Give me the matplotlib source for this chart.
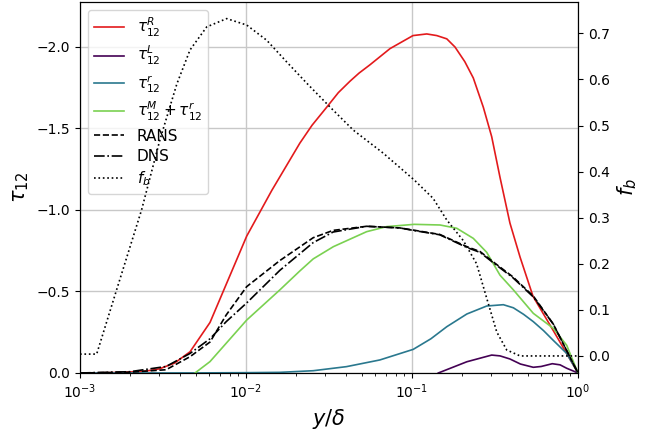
import numpy as np
import matplotlib
matplotlib.use("Agg")
import matplotlib.pyplot as plt

# Reynolds stress contributions along the wall-normal coordinate
x_R = [0.001, 0.0015, 0.002, 0.0025, 0.003, 0.0037, 0.0046, 0.00607, 0.0101, 0.0143,
       0.0211, 0.025, 0.0306, 0.036, 0.0423, 0.048, 0.0557, 0.0737, 0.1014, 0.1227,
       0.141, 0.162, 0.1815, 0.208, 0.234, 0.269, 0.302, 0.339, 0.389, 0.448, 0.536,
       0.71, 1.0]
tau_R = [0.0, -0.002, -0.006, -0.012, -0.025, -0.06, -0.13, -0.31, -0.84, -1.12,
         -1.41, -1.52, -1.63, -1.72, -1.79, -1.84, -1.89, -1.99, -2.07, -2.08,
         -2.07, -2.05, -2.00, -1.91, -1.81, -1.63, -1.45, -1.20, -0.92, -0.71, -0.47,
         -0.26, 0.0]

x_L = [0.144, 0.214, 0.302, 0.339, 0.389, 0.45, 0.538, 0.6, 0.7, 0.78, 0.855, 1.0]
tau_L = [0.0, -0.069, -0.11, -0.105, -0.086, -0.055, -0.035, -0.04, -0.057, -0.05, -0.029, 0.0]

x_r = [0.001, 0.005, 0.0101, 0.016, 0.0254, 0.0403, 0.064, 0.1017, 0.13, 0.162,
       0.214, 0.282, 0.355, 0.408, 0.47, 0.538, 0.62, 0.71, 0.855, 1.0]
tau_r = [0.0, -0.0005, -0.002, -0.004, -0.014, -0.039, -0.08, -0.145, -0.21, -0.284,
         -0.362, -0.411, -0.419, -0.40, -0.36, -0.315, -0.26, -0.20, -0.12, 0.0]

x_Mr = [0.00493, 0.00607, 0.0101, 0.016, 0.0211, 0.0254, 0.0336, 0.0533, 0.0704, 0.1032,
        0.1475, 0.186, 0.234, 0.282, 0.339, 0.408, 0.538, 0.71, 0.855, 1.0]
tau_Mr = [0.0, -0.07, -0.325, -0.51, -0.626, -0.70, -0.775, -0.867, -0.898, -0.912,
          -0.908, -0.888, -0.826, -0.74, -0.60, -0.51, -0.366, -0.274, -0.17, 0.0]

x_rans = [0.001, 0.002, 0.0033, 0.0046, 0.00607, 0.0076, 0.0101, 0.016, 0.0254, 0.0335,
          0.0533, 0.0845, 0.1014, 0.147, 0.214, 0.257, 0.31, 0.405, 0.54, 0.71, 1.0]
tau_rans = [0.0, -0.005, -0.02, -0.10, -0.19, -0.356, -0.53, -0.69, -0.83, -0.875,
            -0.90, -0.89, -0.877, -0.85, -0.775, -0.745, -0.68, -0.59, -0.47, -0.30, 0.0]
tau_dns = [0.0, -0.008, -0.04, -0.12, -0.21, -0.315, -0.43, -0.63, -0.80, -0.865,
           -0.90, -0.89, -0.875, -0.848, -0.77, -0.74, -0.675, -0.585, -0.465, -0.30, 0.0]

x_fb = [0.001, 0.00126, 0.00166, 0.00235, 0.00303, 0.00383, 0.0046, 0.0058, 0.00765,
        0.0101, 0.01333, 0.01758, 0.0232, 0.0321, 0.0443, 0.0671, 0.103, 0.134, 0.162,
        0.204, 0.245, 0.282, 0.324, 0.372, 0.448, 1.0]
f_b = [0.004, 0.004, 0.143, 0.317, 0.469, 0.59, 0.664, 0.714, 0.732,
       0.718, 0.685, 0.638, 0.592, 0.54, 0.49, 0.44, 0.382, 0.342, 0.295,
       0.25, 0.20, 0.125, 0.052, 0.013, 0.0, 0.0]

fig = plt.figure(figsize=(6.57, 4.32), dpi=100)
ax = fig.add_axes([80 / 657, 1 - 373 / 432, 498 / 657, 371 / 432])
ax2 = ax.twinx()

ax.grid(True, color="#c8c8c8", linewidth=1.0)
ax.set_axisbelow(True)

l1, = ax.plot(x_R, tau_R, color="#e31a1c", lw=1.2, label=r"$\tau_{12}^R$")
l2, = ax.plot(x_L, tau_L, color="#440154", lw=1.2, label=r"$\tau_{12}^L$")
l3, = ax.plot(x_r, tau_r, color="#2a788e", lw=1.2, label=r"$\tau_{12}^r$")
l4, = ax.plot(x_Mr, tau_Mr, color="#7ad151", lw=1.2, label=r"$\tau_{12}^M + \tau_{12}^r$")
l5, = ax.plot(x_rans, tau_rans, color="black", ls="--", lw=1.2, label="RANS")
l6, = ax.plot(x_rans, tau_dns, color="black", ls="-.", lw=1.2, label="DNS")
l7, = ax2.plot(x_fb, f_b, color="black", ls=":", lw=1.2, label=r"$f_b$")

ax.set_xscale("log")
ax.set_xlim(1e-3, 1.0)
ax.set_ylim(0.0, -2.276)
ax.set_yticks([0.0, -0.5, -1.0, -1.5, -2.0])
ax2.set_ylim(-0.037, 0.768)
ax2.set_yticks([0.0, 0.1, 0.2, 0.3, 0.4, 0.5, 0.6, 0.7])

ax.set_xlabel(r"$y/\delta$", fontsize=15)
ax.set_ylabel(r"$\tau_{12}$", fontsize=15)
ax2.set_ylabel(r"$f_b$", fontsize=15)

ax.legend(handles=[l1, l2, l3, l4, l5, l6, l7], loc="upper left", fontsize=11,
          labelspacing=0.35)

fig.savefig("out.png", dpi=100)
